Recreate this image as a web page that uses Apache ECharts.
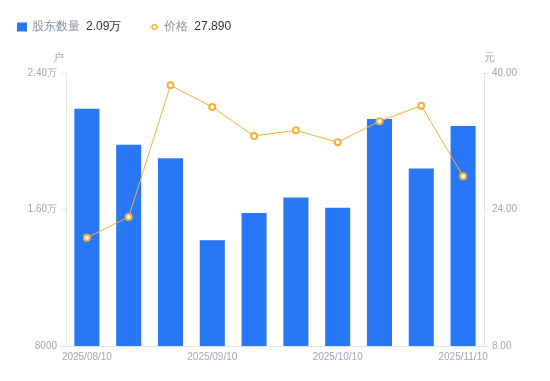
<!DOCTYPE html>
<html>
  <head>
    <meta charset="utf-8" />
    <title>股东数量与价格</title>
    <style>
      body {
        margin: 0;
        padding: 0;
      }
      #chart {
        width: 550px;
        height: 381px;
      }
    </style>
  </head>
  <body>
    <div id="chart"></div>
    <script src="https://cdn.jsdelivr.net/npm/echarts@6/dist/echarts.min.js"></script>
    <script type="text/javascript">
      var dates = [
        '2025/08/10', '2025/08/20', '2025/08/31', '2025/09/10', '2025/09/19',
        '2025/09/30', '2025/10/10', '2025/10/20', '2025/10/31', '2025/11/10'
      ];
      var holders = [21900, 19800, 19000, 14200, 15800, 16700, 16100, 21300, 18400, 20900];
      var prices = [20.69, 23.12, 38.56, 36.01, 32.62, 33.28, 31.88, 34.34, 36.17, 27.89];

      var axisColor = '#e3e5ea';
      var labelColor = '#a3a7b3';
      var barColor = '#2878f5';
      var lineColor = '#f7b035';

      // line + ring icon for the price legend item
      var lineIcon =
        'path://M0,2.5L2.5,2.5L2.5,3.5L0,3.5Z M7.5,2.5L10,2.5L10,3.5L7.5,3.5Z ' +
        'M2,3A3,3,0,1,0,8,3A3,3,0,1,0,2,3Z M3.3,3A1.7,1.7,0,1,1,6.7,3A1.7,1.7,0,1,1,3.3,3Z';

      function fmtHolders(v) {
        return v >= 10000 ? (v / 10000).toFixed(2) + '万' : String(v);
      }

      var chart = echarts.init(document.getElementById('chart'));
      var option = {
        animation: false,
        legend: {
          left: 12,
          top: 16,
          itemGap: 28,
          itemWidth: 10,
          itemHeight: 9,
          textStyle: {
            fontSize: 12,
            rich: {
              n: { color: '#8a8f99', fontSize: 12 },
              v: { color: '#333', fontSize: 12, padding: [0, 0, 0, 6] }
            }
          },
          formatter: function (name) {
            var last = name === '股东数量'
              ? fmtHolders(holders[holders.length - 1])
              : prices[prices.length - 1].toFixed(3);
            return '{n|' + name + '}{v|' + last + '}';
          },
          data: [
            { name: '股东数量', icon: 'rect' },
            { name: '价格', icon: lineIcon, itemStyle: { color: lineColor, borderWidth: 0 } }
          ]
        },
        grid: {
          left: 66,
          right: 66,
          top: 73,
          bottom: 35
        },
        xAxis: {
          type: 'category',
          data: dates,
          axisLine: { lineStyle: { color: axisColor } },
          axisTick: { show: false },
          axisLabel: {
            interval: 2,
            color: labelColor,
            fontSize: 10,
            margin: 6
          }
        },
        yAxis: [
          {
            type: 'value',
            name: '户',
            nameGap: 10,
            nameTextStyle: { color: labelColor, fontSize: 11, align: 'right', padding: [0, 2, 0, 0] },
            min: 8000,
            max: 24000,
            interval: 8000,
            axisLine: { show: true, lineStyle: { color: axisColor } },
            axisTick: { show: true, length: 5, lineStyle: { color: axisColor } },
            splitLine: { show: false },
            axisLabel: {
              color: labelColor,
              fontSize: 10,
              margin: 9,
              formatter: fmtHolders
            }
          },
          {
            type: 'value',
            name: '元',
            nameGap: 10,
            nameTextStyle: { color: labelColor, fontSize: 11, align: 'left', padding: [0, 0, 0, 0] },
            min: 8,
            max: 40,
            interval: 16,
            axisLine: { show: true, lineStyle: { color: axisColor } },
            axisTick: { show: true, length: 5, lineStyle: { color: axisColor } },
            splitLine: { show: false },
            axisLabel: {
              color: labelColor,
              fontSize: 10,
              margin: 8,
              formatter: function (v) {
                return v.toFixed(2);
              }
            }
          }
        ],
        series: [
          {
            name: '股东数量',
            type: 'bar',
            yAxisIndex: 0,
            barWidth: '60%',
            itemStyle: { color: barColor },
            data: holders
          },
          {
            name: '价格',
            type: 'line',
            yAxisIndex: 1,
            symbol: 'emptyCircle',
            symbolSize: 6,
            itemStyle: { color: lineColor, borderWidth: 2 },
            lineStyle: { color: lineColor, width: 1 },
            data: prices
          }
        ]
      };
      chart.setOption(option);
    </script>
  </body>
</html>
